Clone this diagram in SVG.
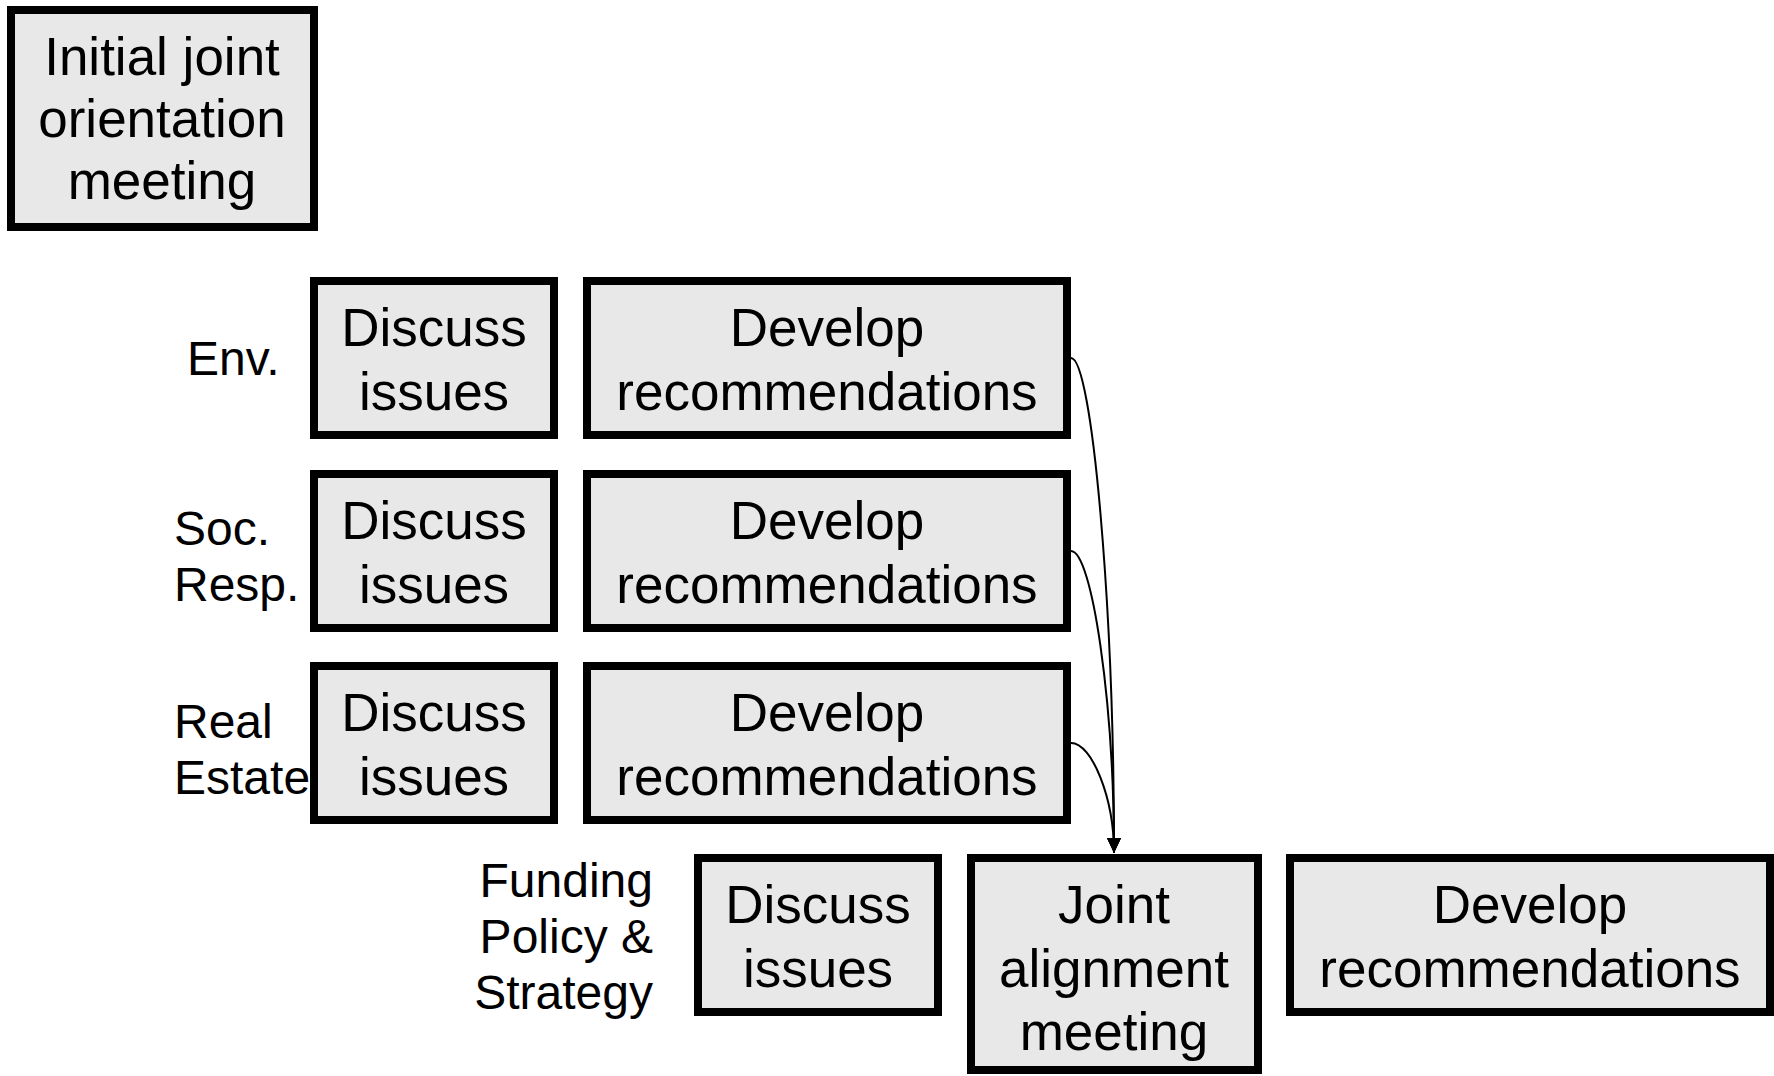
<svg xmlns="http://www.w3.org/2000/svg" width="1774" height="1076" viewBox="0 0 1774 1076">
<style>
.box{fill:#e8e8e8;stroke:#000;stroke-width:8}
.t{font-family:"Liberation Sans",Arial,sans-serif;font-size:53px;fill:#000;text-anchor:middle}
.lbl{font-family:"Liberation Sans",Arial,sans-serif;font-size:48px;fill:#000}
.con{fill:none;stroke:#000;stroke-width:2}
</style>
<defs>
<marker id="arr" markerUnits="userSpaceOnUse" markerWidth="16" markerHeight="16" viewBox="0 0 16 16" refX="15" refY="8" orient="auto">
<path d="M0,1 L15,8 L0,15 Z" fill="#000"/>
</marker>
</defs>
<rect width="1774" height="1076" fill="#fff"/>
<g id="initial">
<rect class="box" x="11" y="10" width="303" height="217"/>
<text class="t" x="162" y="75" font-size="54">Initial joint</text>
<text class="t" x="162" y="137" font-size="54">orientation</text>
<text class="t" x="162" y="199" font-size="54">meeting</text>
</g>
<g id="label-env"><text class="lbl" x="187" y="375">Env.</text></g>
<g id="label-soc"><text class="lbl" x="174" y="545">Soc.</text><text class="lbl" x="174" y="601">Resp.</text></g>
<g id="label-real"><text class="lbl" x="174" y="738">Real</text><text class="lbl" x="174" y="794">Estate</text></g>
<g id="label-fund"><text class="lbl" text-anchor="end" x="653" y="897">Funding</text><text class="lbl" text-anchor="end" x="653" y="953">Policy &amp;</text><text class="lbl" text-anchor="end" x="653" y="1009">Strategy</text></g>
<g id="env-discuss"><rect class="box" x="314" y="281" width="240" height="154"/><text class="t" x="434" y="346">Discuss</text><text class="t" x="434" y="410">issues</text></g>
<g id="env-develop"><rect class="box" x="587" y="281" width="480" height="154"/><text class="t" x="827" y="346">Develop</text><text class="t" x="827" y="410">recommendations</text></g>
<g id="soc-discuss"><rect class="box" x="314" y="474" width="240" height="154"/><text class="t" x="434" y="539">Discuss</text><text class="t" x="434" y="603">issues</text></g>
<g id="soc-develop"><rect class="box" x="587" y="474" width="480" height="154"/><text class="t" x="827" y="539">Develop</text><text class="t" x="827" y="603">recommendations</text></g>
<g id="real-discuss"><rect class="box" x="314" y="666" width="240" height="154"/><text class="t" x="434" y="731">Discuss</text><text class="t" x="434" y="795">issues</text></g>
<g id="real-develop"><rect class="box" x="587" y="666" width="480" height="154"/><text class="t" x="827" y="731">Develop</text><text class="t" x="827" y="795">recommendations</text></g>
<g id="fund-discuss"><rect class="box" x="698" y="858" width="240" height="154"/><text class="t" x="818" y="923">Discuss</text><text class="t" x="818" y="987">issues</text></g>
<g id="joint"><rect class="box" x="971" y="858" width="287" height="212"/><text class="t" x="1114" y="923">Joint</text><text class="t" x="1114" y="987">alignment</text><text class="t" x="1114" y="1050">meeting</text></g>
<g id="fund-develop"><rect class="box" x="1290" y="858" width="480" height="154"/><text class="t" x="1530" y="923">Develop</text><text class="t" x="1530" y="987">recommendations</text></g>
<g id="connectors">
<path class="con" d="M1071,358 C1092,358 1114,605 1114,853" marker-end="url(#arr)"/>
<path class="con" d="M1071,551 C1092,551 1114,702 1114,853" marker-end="url(#arr)"/>
<path class="con" d="M1071,743 C1092,743 1114,798 1114,853" marker-end="url(#arr)"/>
</g>
</svg>
